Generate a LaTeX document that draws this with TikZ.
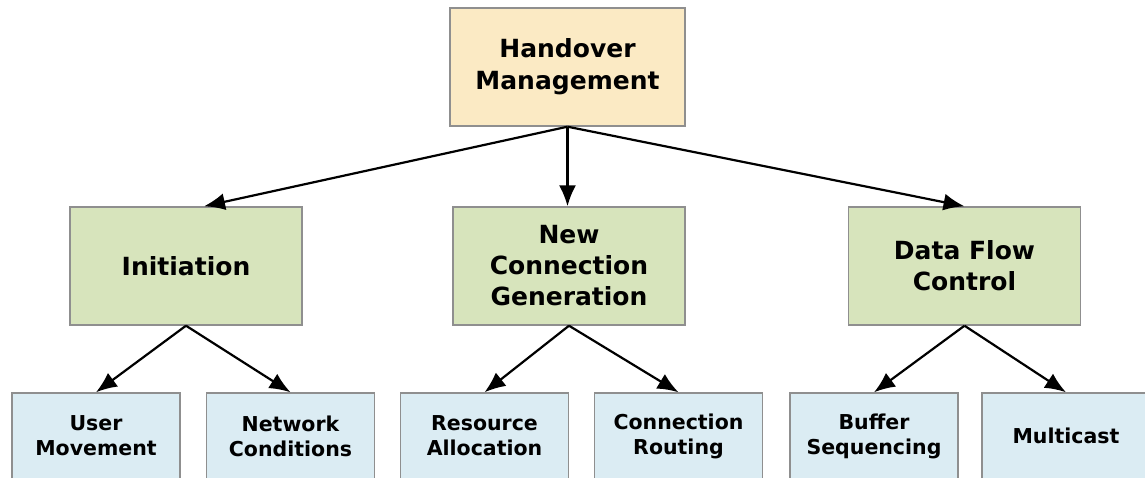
\documentclass[tikz,border=0pt]{standalone}
\usepackage{fontspec}
\setmainfont{DejaVu Sans}
\usetikzlibrary{arrows.meta}
\definecolor{hmfill}{HTML}{FBEAC4}
\definecolor{midfill}{HTML}{D7E4BC}
\definecolor{leaffill}{HTML}{DBECF3}
\definecolor{boxline}{HTML}{8F8F8F}

\begin{document}
\begin{tikzpicture}[x=1pt,y=-1pt,
    box/.style={draw=boxline,line width=1.4pt,align=center,inner sep=0pt,font=\bfseries},
    topbox/.style={box,fill=hmfill,minimum width=235pt,minimum height=118pt,font=\fontsize{25}{32}\bfseries},
    midbox/.style={box,fill=midfill,minimum width=232pt,minimum height=118pt,font=\fontsize{25}{31}\bfseries},
    leafbox/.style={box,fill=leaffill,minimum width=168pt,minimum height=86pt,font=\fontsize{20.5}{25}\bfseries},
    arr/.style={-{Latex[length=21pt,width=17pt]},line width=2.2pt}]
  \useasboundingbox (0,0) rectangle (1145,478);
  \node[topbox] (hm) at (567.5,67) {Handover\\Management};
  \node[midbox] (init) at (186,266) {Initiation};
  \node[midbox] (ncg) at (569,266) {New\\Connection\\Generation};
  \node[midbox] (dfc) at (964.5,266) {Data Flow\\Control};
  \node[leafbox] (um) at (96,436) {User\\Movement};
  \node[leafbox] (nc) at (290.5,436) {Network\\Conditions};
  \node[leafbox] (ra) at (484.5,436) {Resource\\Allocation};
  \node[leafbox] (cr) at (678.5,436) {Connection\\Routing};
  \node[leafbox] (bs) at (874,436) {Buffer\\Sequencing};
  \node[leafbox] (mc) at (1066,436) {Multicast};
  \draw[arr] (hm.south) -- ([xshift=18pt]init.north);
  \draw[arr] (hm.south) -- (ncg.north -| hm.south);
  \draw[arr] (hm.south) -- (dfc.north);
  \draw[arr] (init.south) -- (um.north);
  \draw[arr] (init.south) -- (nc.north);
  \draw[arr] (ncg.south) -- (ra.north);
  \draw[arr] (ncg.south) -- (cr.north);
  \draw[arr] (dfc.south) -- (bs.north);
  \draw[arr] (dfc.south) -- (mc.north);
\end{tikzpicture}
\end{document}
